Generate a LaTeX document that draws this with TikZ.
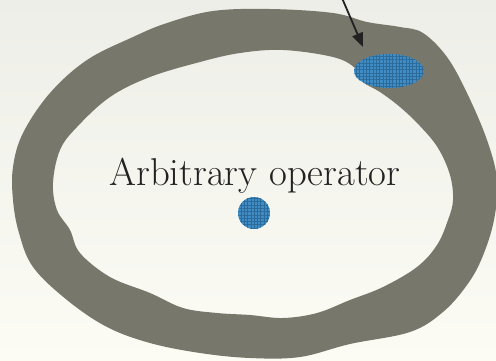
\documentclass[tikz,border=0pt]{standalone}
\usetikzlibrary{shapes.geometric,patterns.meta,arrows.meta}
\definecolor{ringgray}{HTML}{77776B}
\definecolor{bgtop}{HTML}{EEEEE8}
\definecolor{bgbot}{HTML}{FCFCF5}
\definecolor{blobblue}{HTML}{3F8DC4}
\definecolor{griddark}{HTML}{2C6A9A}
\definecolor{inkgray}{HTML}{222222}
\tikzset{
  ring/.style={fill=ringgray, even odd rule},
  blob/.style={fill=blobblue, draw=none, inner sep=0pt,
    postaction={pattern={Lines[angle=0, distance=3.3pt, line width=0.6pt]}, pattern color=griddark},
    postaction={pattern={Lines[angle=90, distance=3.3pt, line width=0.6pt]}, pattern color=griddark}},
  title/.style={text=inkgray, inner sep=0pt, font=\fontsize{38.8}{44}\selectfont},
  pointer/.style={draw=inkgray, line width=1.8pt, -{Triangle[length=14pt,width=11pt]}}
}
\begin{document}
\begin{tikzpicture}[x=1pt,y=1pt]
\useasboundingbox (0,0) rectangle (496,360);
\clip (0,0) rectangle (496,360);
\shade[top color=bgtop, bottom color=bgbot] (0,0) rectangle (496,360);
% ring: outer and inner outlines (image y flipped: y = 360 - yimg)
\fill[ring] plot[smooth cycle, tension=0.6] coordinates {
  (213,349) (270,351) (333,347) (367,338) (400,333) (423,327) (447,303)
  (467,267) (487,220) (497,180) (494,140) (482,102) (467,75) (443,48)
  (410,28) (350,16) (300,3) (250,2) (200,7) (150,17) (107,33) (67,60)
  (33,93) (19,127) (13,160) (13,193) (23,227) (50,267) (87,300) (133,323) (167,337)}
  plot[smooth cycle, tension=0.6] coordinates {
  (240,307) (283,310) (333,303) (355,292) (363,278) (380,268) (400,253)
  (420,234) (438,212) (450,185) (453,160) (448,140) (437,115) (417,93)
  (383,73) (350,60) (317,47) (283,42) (250,45) (217,47) (183,52) (150,67)
  (110,83) (80,107) (70,130) (57,150) (53,177) (60,210) (77,233) (110,263)
  (150,283) (200,298)};
\node[blob, circle, minimum size=32pt] (dot) at (254,147) {};
\node[blob, ellipse, minimum width=70pt, minimum height=34pt] (lobe) at (389,289) {};
\node[title, anchor=base] (label) at (255,175) {Arbitrary operator};
\coordinate (src) at (342,362);
\coordinate (tip) at (363,313);
\draw[pointer] (src) -- (tip);
\end{tikzpicture}
\end{document}
